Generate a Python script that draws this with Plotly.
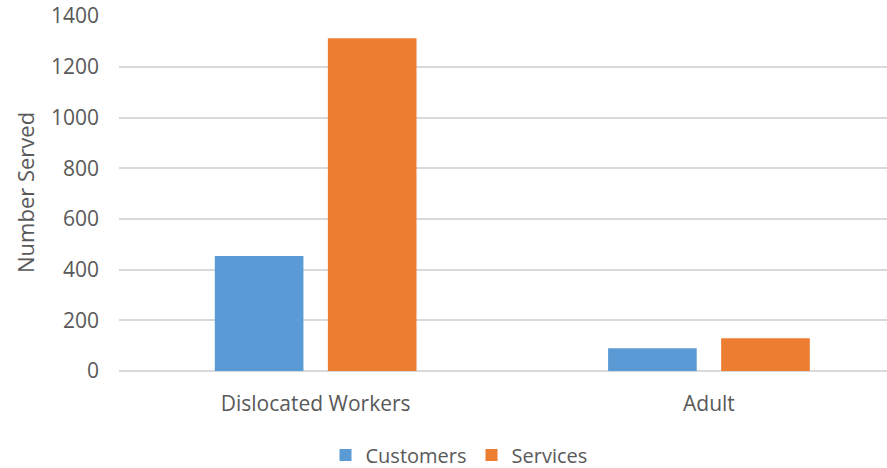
import plotly.graph_objects as go

categories = ["Dislocated Workers", "Adult"]
customers = [454, 90]
services = [1313, 129]
series_names = ["Customers", "Services"]
y_ticks = [0, 200, 400, 600, 800, 1000, 1200, 1400]

font_family = "Open Sans, Liberation Sans, sans-serif"
text_color = "#595959"

W, H = 887, 468
L, R, T, B = 119, 0, 16, 468 - 371

fig = go.Figure()
fig.add_trace(go.Bar(x=categories, y=customers, name=series_names[0],
                     marker=dict(color="#5B9BD5", line=dict(width=0))))
fig.add_trace(go.Bar(x=categories, y=services, name=series_names[1],
                     marker=dict(color="#ED7D31", line=dict(width=0))))

plot_w = W - L - R
plot_h = H - T - B
plot_bottom = T + plot_h
cat_px = 393.3  # pixel width of one category band in the reference


def fy(py):
    return (plot_bottom - py) / plot_h


def fx(px):
    return (px - L) / plot_w


fig.update_layout(
    width=W, height=H,
    margin=dict(l=L, r=R, t=T, b=B, autoexpand=False),
    paper_bgcolor="white", plot_bgcolor="white",
    barmode="group", bargap=0.425, bargroupgap=0.216,
    font=dict(family=font_family, color=text_color, size=21),
    showlegend=True,
    legend=dict(orientation="h", x=fx(459), xanchor="center",
                y=fy(455), yanchor="middle",
                font=dict(size=20, color=text_color), traceorder="normal",
                tracegroupgap=0),
    yaxis=dict(range=[0, 1400.5], tickvals=y_ticks, showgrid=True, gridcolor="#D9D9D9",
               gridwidth=1.5, zeroline=True, zerolinecolor="#D9D9D9", zerolinewidth=1.5,
               tickfont=dict(size=21, color=text_color), ticks="", showline=False,
               automargin=False, ticklabelstandoff=19),
    xaxis=dict(showline=False, ticks="", tickfont=dict(size=21, color=text_color),
               automargin=False, ticklabelstandoff=18,
               range=[-0.5, -0.5 + plot_w / cat_px]),
    annotations=[dict(text="Number Served", textangle=-90, xref="paper", yref="paper",
                      x=fx(25), y=fy(193), xanchor="center",
                      yanchor="middle", showarrow=False,
                      font=dict(size=22, color=text_color))],
)

fig.write_html("out.html", config={"displayModeBar": False})

# remove the default page margin so the figure sits at the window's corner
with open("out.html", encoding="utf-8") as f:
    html = f.read()
html = html.replace("<body>", '<body style="margin:0;overflow:hidden">', 1)
with open("out.html", "w", encoding="utf-8") as f:
    f.write(html)
